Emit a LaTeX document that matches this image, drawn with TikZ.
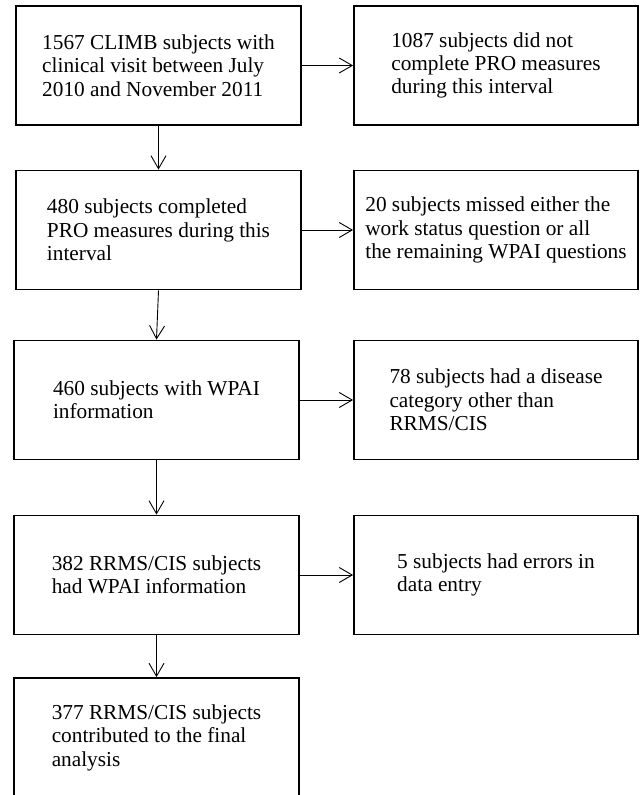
\documentclass[tikz,border=0pt]{standalone}
\usepackage{fontspec}
\setmainfont{Liberation Serif}
\usetikzlibrary{arrows.meta}

\tikzset{
  stepbox/.style={draw, line width=1.8pt, minimum width=285pt, minimum height=119pt,
    align=left, inner sep=4pt, font=\fontsize{21.3}{23.4}\selectfont},
  flow/.style={line width=0.9pt, -{Straight Barb[length=13pt, width=15pt, line width=0.9pt]}}
}

\begin{document}
\begin{tikzpicture}[x=1pt, y=-1pt]
    \useasboundingbox (0,0) rectangle (640,795);

    % Main column
    \node[stepbox] (climb) at (158.5,65.5) {1567 CLIMB subjects with\\clinical visit between July\\2010 and November 2011};
    \node[stepbox] (pro) at (158.5,230) {480 subjects completed\\PRO measures during this\\interval};
    \node[stepbox] (wpai) at (156.5,400) {460 subjects with WPAI\\information};
    \node[stepbox] (rrms) at (156.5,575) {382 RRMS/CIS subjects\\had WPAI information};
    \node[stepbox] (final) at (156.5,737.5) {377 RRMS/CIS subjects\\contributed to the final\\analysis};

    % Exclusions
    \node[stepbox, minimum width=284pt] (nopro) at (496,65.5) {1087 subjects did not\\complete PRO measures\\during this interval};
    \node[stepbox, minimum width=284pt] (missed) at (496,230) {20 subjects missed either the\\work status question or all\\the remaining WPAI questions};
    \node[stepbox, minimum width=284pt] (other) at (496,400) {78 subjects had a disease\\category other than\\RRMS/CIS};
    \node[stepbox, minimum width=284pt] (errors) at (496,575) {5 subjects had errors in\\data entry};

    % Arrows down
    \draw[flow] (climb) -- (pro);
    \draw[flow] (pro.south) -- (wpai.north);
    \draw[flow] (wpai) -- (rrms);
    \draw[flow] (rrms) -- (final);

    % Arrows right
    \draw[flow] (climb) -- (nopro);
    \draw[flow] (pro) -- (missed);
    \draw[flow] (wpai) -- (other);
    \draw[flow] (rrms) -- (errors);

\end{tikzpicture}
\end{document}
